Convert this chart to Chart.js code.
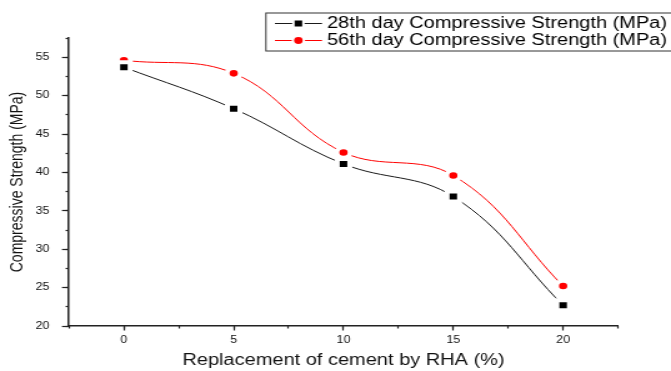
<!DOCTYPE html>
<html><head><meta charset="utf-8">
<script src="https://cdn.jsdelivr.net/npm/chart.js@4.4.1/dist/chart.umd.min.js"></script>
<style>
html,body{margin:0;padding:0;background:#fff;overflow:hidden}
canvas{display:block}
</style></head><body>
<canvas id="c" width="537" height="371" style="width:671px;height:371px"></canvas>
<script>
// ---- data ----
const replacement = [0, 5, 10, 15, 20];
const strength28 = [53.7, 48.3, 41.1, 36.85, 22.7];
const strength56 = [54.6, 52.9, 42.6, 39.6, 25.2];
const seriesLabels = ['28th day Compressive Strength (MPa)', '56th day Compressive Strength (MPa)'];
const xTitle = 'Replacement of cement by RHA (%)';
const yTitle = 'Compressive Strength (MPa)';
const xRange = [-2.5, 22.5];
const yRange = [20, 57.5];
const tickStep = 2.5;
const labelStep = 5;

const isMajor = v => Math.abs(v / labelStep - Math.round(v / labelStep)) < 1e-6;
const toPts = ys => replacement.map((x, i) => ({x: x, y: ys[i]}));
const AXIS = '#222';

Chart.defaults.font.family = '"Liberation Sans", Arial, sans-serif';
Chart.defaults.color = '#000';

const legendPlugin = {
  id: 'boxLegend',
  afterDraw(chart) {
    const ctx = chart.ctx;
    ctx.save();
    ctx.strokeStyle = '#333';
    ctx.lineWidth = 1;
    ctx.strokeRect(212.8, 13, 340, 38);
    chart.data.datasets.forEach((ds, i) => {
      const y = 23.5 + i * 17;
      ctx.strokeStyle = ds.borderColor;
      ctx.lineWidth = 1;
      ctx.beginPath(); ctx.moveTo(220, y); ctx.lineTo(257.7, y); ctx.stroke();
      const cx = 238.8;
      ctx.fillStyle = '#fff';
      if (ds.pointStyle === 'rect') {
        ctx.fillRect(cx - 5, y - 5, 10, 10);
        ctx.fillStyle = ds.pointBackgroundColor;
        ctx.fillRect(cx - 3, y - 3, 6, 6);
      } else {
        ctx.beginPath(); ctx.arc(cx, y, 5.3, 0, Math.PI * 2); ctx.fill();
        ctx.fillStyle = ds.pointBackgroundColor;
        ctx.beginPath(); ctx.arc(cx, y, 3.4, 0, Math.PI * 2); ctx.fill();
      }
      ctx.fillStyle = '#000';
      ctx.font = '16px "Liberation Sans", Arial, sans-serif';
      ctx.textBaseline = 'middle';
      ctx.textAlign = 'left';
      ctx.fillText(ds.label, 261.7, y + 0.5);
    });
    ctx.restore();
  }
};

new Chart(document.getElementById('c'), {
  type: 'line',
  data: {
    datasets: [
      {
        label: seriesLabels[0], data: toPts(strength28),
        borderColor: '#1a1a1a', borderWidth: 1, tension: 0.4,
        pointStyle: 'rect', pointRadius: 7.07, pointBackgroundColor: '#000',
        pointBorderColor: '#fff', pointBorderWidth: 4
      },
      {
        label: seriesLabels[1], data: toPts(strength56),
        borderColor: '#ff0000', borderWidth: 1, tension: 0.4,
        pointStyle: 'circle', pointRadius: 5.3, pointBackgroundColor: '#ff0000',
        pointBorderColor: '#fff', pointBorderWidth: 4
      }
    ]
  },
  options: {
    responsive: false,
    animation: false,
    devicePixelRatio: 1,
    layout: {padding: {left: 0, top: 38, right: 42.4, bottom: 0}},
    plugins: {legend: {display: false}, tooltip: {enabled: false}},
    scales: {
      x: {
        type: 'linear', position: 'bottom', min: xRange[0], max: xRange[1],
        ticks: {stepSize: tickStep, autoSkip: false, maxRotation: 0, font: {size: 10}, padding: 4, color: '#111',
          callback: v => isMajor(v) ? String(v) : ''},
        grid: {drawOnChartArea: false, drawTicks: true, tickLength: 4.5, tickWidth: 1.2,
          tickColor: c => (c.tick && isMajor(c.tick.value)) ? AXIS : 'rgba(0,0,0,0)'},
        border: {display: true, color: AXIS, width: 1.5},
        title: {display: true, text: xTitle, font: {size: 16}, color: '#111', padding: {top: 0, bottom: 1}},
        afterFit: s => { s.height = 45; }
      },
      x2: {
        type: 'linear', position: 'bottom', weight: -1, min: xRange[0], max: xRange[1],
        ticks: {stepSize: tickStep, display: false},
        grid: {drawOnChartArea: false, drawTicks: true, tickLength: 2.5, tickWidth: 1.2, tickColor: AXIS},
        border: {display: false},
        afterFit: s => { s.height = 0; }
      },
      y: {
        type: 'linear', position: 'left', min: yRange[0], max: yRange[1],
        ticks: {stepSize: tickStep, autoSkip: false, font: {size: 10}, padding: 10, color: '#111',
          callback: v => isMajor(v) ? String(v) : ''},
        grid: {drawOnChartArea: false, drawTicks: true, tickLength: 5.6, tickWidth: 1.2,
          tickColor: c => (c.tick && isMajor(c.tick.value)) ? AXIS : 'rgba(0,0,0,0)'},
        border: {display: true, color: AXIS, width: 1.5},
        title: {display: true, text: yTitle, font: {size: 14}, color: '#111', padding: {top: 6, bottom: 0}},
        afterFit: s => { s.width = 55.2; }
      },
      y2: {
        type: 'linear', position: 'left', weight: -1, min: yRange[0], max: yRange[1],
        ticks: {stepSize: tickStep, display: false},
        grid: {drawOnChartArea: false, drawTicks: true, tickLength: 2.7, tickWidth: 1.2, tickColor: AXIS},
        border: {display: false},
        afterFit: s => { s.width = 0; }
      }
    }
  },
  plugins: [legendPlugin]
});
</script>
</body></html>
